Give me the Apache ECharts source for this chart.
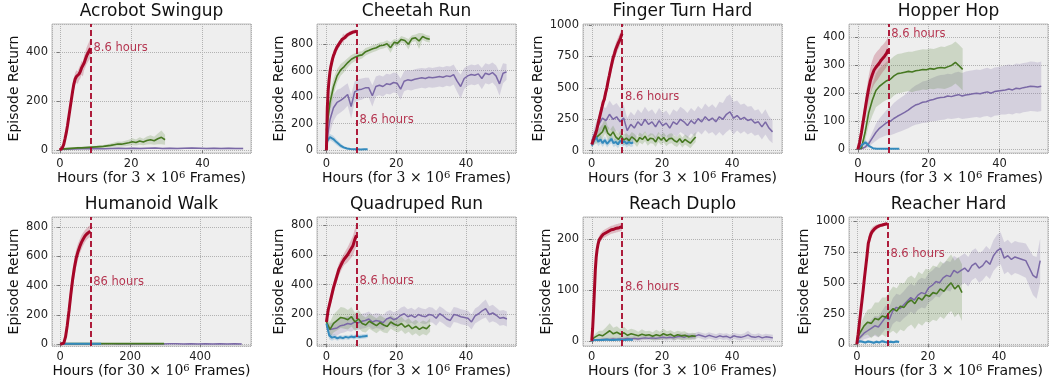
<!DOCTYPE html>
<html>
<head>
<meta charset="utf-8">
<script src="https://cdn.jsdelivr.net/npm/echarts@6/dist/echarts.min.js"></script>
<style>
  html, body { margin: 0; background: #fff; }
  #chart { width: 1049px; height: 379px; }
</style>
</head>
<body>
<div id="chart"></div>
<script>
// panel titles, axis ranges and tick steps
const TITLES = ["Acrobot Swingup", "Cheetah Run", "Finger Turn Hard", "Hopper Hop",
  "Humanoid Walk", "Quadruped Run", "Reach Duplo", "Reacher Hard"];
const X_MIN = [-2.2, -2.7, -2.5, -2.5, -23.5, -2.7, -2.5, -2.2];
const X_MAX = [53.6, 54.3, 54.2, 53.7, 545.5, 54.3, 54.2, 53.8];
const X_STEP = [20, 20, 20, 20, 200, 20, 20, 20];
const Y_MIN = [-12, -20, -18, -13, -12, -11, -10, -14];
const Y_MAX = [514, 950, 1008, 447, 868, 853, 244, 1035];
const Y_STEP = [200, 200, 250, 100, 200, 200, 100, 250];
const FRAMES = ["3", "3", "3", "3", "30", "3", "3", "3"];
// wall-clock marker and its note
const MARK_X = [8.6, 8.6, 8.6, 8.6, 86, 8.6, 8.6, 8.6];
const NOTE_TEXT = ["8.6 hours", "8.6 hours", "8.6 hours", "8.6 hours", "86 hours", "8.6 hours", "8.6 hours", "8.6 hours"];
const NOTE_Y = [416, 230, 426, 413, 426, 425, 106, 732];
// last hour of each run (red, green, purple, blue)
const RED_END = [8.6, 8.6, 8.6, 8.6, 86, 8.6, 8.6, 8.6];
const GREEN_END = [29.5, 29.6, 29.6, 29.6, 297, 29.7, 29.6, 29.6];
const PURPLE_END = [51.4, 51.6, 51.5, 51.8, 519, 51.7, 51.6, 51.6];
const BLUE_END = [11.7, 11.8, 11.8, 11.7, 117, 11.8, 11.7, 11.9];

// ---- Acrobot Swingup
const acrobotRed = [0, 4, 10, 22, 45, 70, 100, 135, 170, 205, 240, 270, 290, 300, 295, 310, 320, 335, 330, 355, 370, 385, 395, 405, 415];
const acrobotRedSd = [2, 4, 6, 8, 10, 12, 14, 16, 18, 20, 22, 24, 25, 25, 26, 26, 28, 28, 30, 30, 32, 34, 36, 38, 40];
const acrobotGreen = [3, 5, 6, 7, 8, 9, 9, 10, 11, 12, 13, 14, 15, 17, 19, 22, 25, 24, 27, 30, 34, 31, 37, 33, 39, 42, 38, 46, 52, 42];
const acrobotGreenSd = [2, 2, 3, 3, 3, 4, 4, 4, 5, 5, 5, 6, 6, 7, 8, 9, 10, 10, 11, 12, 14, 12, 15, 13, 16, 18, 16, 22, 28, 20];
const acrobotPurple = [2, 3, 4, 5, 5, 6, 5, 6, 7, 6, 7, 6, 7, 8, 6, 7, 6, 7, 8, 7, 6, 7, 6, 7, 6, 6];
const acrobotPurpleSd = [1, 2, 2, 3, 3, 3, 3, 3, 3, 3, 3, 3, 3, 3, 3, 3, 3, 3, 3, 3, 3, 3, 3, 3, 3, 3];

// ---- Cheetah Run
const cheetahRed = [0, 320, 450, 530, 590, 630, 660, 690, 712, 728, 748, 758, 776, 783, 797, 803, 817, 822, 836, 838, 847, 849, 859, 860, 869, 870, 878, 879, 884, 885, 889, 889, 894, 893, 898];
const cheetahRedSd = [0, 60, 60, 55, 50, 45, 40, 38, 36, 34, 32, 30, 28, 26, 25, 24, 24, 22, 22, 40, 22, 20, 20, 20, 18, 18, 18, 16, 16, 16, 15, 15, 15, 14, 14];
const cheetahGreen = [150, 360, 480, 560, 605, 630, 660, 685, 700, 712, 718, 742, 752, 764, 772, 786, 790, 802, 772, 812, 806, 834, 826, 798, 840, 846, 822, 856, 842, 836];
const cheetahGreenSd = [60, 70, 60, 50, 45, 40, 35, 32, 30, 30, 28, 28, 26, 26, 25, 25, 25, 25, 40, 25, 25, 25, 25, 40, 25, 25, 60, 25, 25, 25];
const cheetahPurple = [50, 230, 320, 360, 375, 395, 420, 330, 440, 455, 460, 470, 470, 410, 480, 490, 480, 500, 495, 510, 505, 460, 520, 530, 525, 535, 540, 545, 540, 550, 545, 550, 555, 550, 560, 555, 570, 520, 480, 540, 560, 570, 565, 575, 540, 580, 570, 585, 560, 500, 580, 590];
const cheetahPurpleSd = [50, 100, 100, 95, 90, 90, 85, 90, 80, 80, 80, 75, 75, 80, 75, 75, 75, 75, 75, 75, 75, 80, 75, 75, 75, 75, 75, 75, 75, 75, 75, 75, 75, 75, 75, 75, 75, 80, 90, 80, 75, 75, 75, 75, 80, 75, 75, 75, 80, 90, 75, 60];
const cheetahBlue = [60, 100, 85, 60, 38, 22, 14, 10, 9, 8, 7, 8, 8];
const cheetahBlueSd = [30, 25, 25, 22, 18, 12, 8, 5, 4, 4, 3, 3, 3];

// ---- Finger Turn Hard
const fingerRed = [50, 80, 95, 135, 170, 215, 255, 300, 340, 385, 410, 460, 500, 555, 600, 650, 695, 740, 770, 805, 830, 855, 875, 900, 930];
const fingerRedSd = [20, 25, 25, 30, 30, 35, 35, 40, 40, 40, 45, 45, 45, 50, 50, 50, 50, 50, 50, 50, 50, 50, 50, 50, 55];
const fingerGreen = [60, 90, 110, 130, 150, 200, 140, 120, 150, 110, 90, 120, 85, 100, 80, 110, 95, 70, 105, 90, 115, 80, 100, 95, 70, 110, 85, 105, 75, 95, 100, 80, 70, 95, 65, 90, 75, 60, 85, 110];
const fingerGreenSd = [30, 40, 50, 55, 60, 60, 55, 50, 50, 50, 45, 45, 45, 40, 40, 40, 40, 40, 40, 40, 40, 40, 40, 40, 40, 40, 40, 40, 40, 40, 40, 40, 40, 40, 40, 40, 40, 40, 40, 40];
const fingerPurple = [80, 150, 210, 260, 240, 290, 250, 270, 230, 260, 160, 210, 180, 230, 200, 250, 210, 230, 190, 240, 200, 220, 180, 230, 210, 250, 230, 200, 240, 215, 255, 230, 270, 240, 260, 230, 270, 250, 290, 310, 260, 280, 250, 265, 240, 250, 220, 230, 190, 230, 180, 150];
const fingerPurpleSd = [40, 60, 80, 90, 100, 110, 110, 110, 110, 105, 100, 100, 100, 100, 100, 100, 100, 100, 100, 100, 100, 100, 100, 100, 100, 100, 100, 100, 100, 100, 100, 100, 105, 105, 110, 110, 120, 130, 140, 140, 130, 120, 115, 110, 110, 105, 100, 100, 100, 100, 95, 90];
const fingerBlue = [40, 80, 110, 70, 90, 60, 85, 55, 75, 95, 60, 70, 50, 80, 65, 75, 55, 70, 60, 65];
const fingerBlueSd = [20, 30, 40, 35, 35, 30, 30, 30, 30, 35, 30, 30, 30, 30, 30, 30, 30, 30, 30, 30];

// ---- Hopper Hop
const hopperRed = [0, 25, 60, 100, 140, 180, 215, 245, 265, 282, 292, 300, 308, 318, 325, 333, 342, 357];
const hopperRedSd = [0, 10, 20, 30, 35, 40, 45, 48, 50, 52, 52, 52, 50, 50, 48, 48, 48, 48];
const hopperGreen = [0, 5, 60, 130, 175, 210, 225, 235, 245, 250, 262, 270, 272, 275, 278, 276, 280, 282, 285, 284, 288, 286, 290, 292, 290, 295, 300, 310, 298, 285];
const hopperGreenSd = [0, 5, 30, 45, 55, 60, 65, 65, 68, 70, 70, 70, 70, 70, 70, 72, 72, 72, 72, 72, 72, 72, 72, 75, 75, 75, 75, 75, 75, 75];
const hopperPurple = [0, 2, 8, 20, 40, 60, 75, 85, 95, 100, 110, 118, 125, 132, 140, 150, 158, 162, 168, 170, 175, 178, 182, 185, 186, 190, 188, 192, 195, 190, 194, 196, 198, 200, 198, 202, 205, 200, 206, 208, 210, 212, 215, 212, 218, 216, 220, 222, 225, 224, 222, 225];
const hopperPurpleSd = [0, 2, 6, 12, 20, 30, 35, 40, 45, 50, 55, 58, 60, 62, 65, 68, 70, 72, 74, 75, 76, 78, 80, 80, 80, 80, 80, 82, 82, 82, 84, 84, 84, 85, 85, 85, 86, 86, 86, 86, 86, 88, 88, 88, 88, 88, 88, 88, 88, 88, 88, 88];
const hopperBlue = [0, 15, 25, 12, 4, 2, 2, 2, 2, 2, 2, 2];
const hopperBlueSd = [0, 8, 10, 6, 2, 1, 1, 1, 1, 1, 1, 1];

// ---- Humanoid Walk
const humanoidRed = [0, 0, 8, 50, 130, 230, 340, 440, 520, 585, 630, 665, 695, 718, 738, 752, 765, 772];
const humanoidRedSd = [0, 2, 10, 30, 45, 60, 70, 70, 65, 60, 55, 50, 48, 45, 42, 40, 40, 40];
const humanoidGreen = [4, 4, 5, 4, 5, 4, 4, 5, 4, 5, 4, 4, 5, 4, 5, 4];
const humanoidGreenSd = [3, 3, 3, 3, 3, 3, 3, 3, 3, 3, 3, 3, 3, 3, 3, 3];
const humanoidPurple = [2, 2, 3, 2, 3, 2, 3, 3, 2, 3, 2, 3, 2, 3, 2, 3, 3, 2, 3, 2, 3, 2, 3, 2, 3, 2];
const humanoidPurpleSd = [2, 2, 2, 2, 2, 2, 2, 2, 2, 2, 2, 2, 2, 2, 2, 2, 2, 2, 2, 2, 2, 2, 2, 2, 2, 2];
const humanoidBlue = [3, 4, 3, 4, 3, 4, 3, 3];
const humanoidBlueSd = [2, 2, 2, 2, 2, 2, 2, 2];

// ---- Quadruped Run
const quadRed = [150, 230, 280, 330, 380, 420, 460, 500, 525, 550, 570, 585, 600, 620, 640, 660, 700, 730];
const quadRedSd = [20, 30, 35, 40, 40, 40, 40, 40, 40, 40, 40, 45, 50, 55, 60, 65, 70, 75];
const quadGreen = [150, 100, 140, 160, 180, 175, 165, 185, 150, 170, 140, 130, 155, 140, 125, 145, 130, 120, 150, 135, 125, 140, 115, 130, 105, 120, 100, 115, 105, 130];
const quadGreenSd = [40, 50, 60, 65, 70, 70, 65, 65, 60, 60, 55, 50, 50, 50, 50, 50, 50, 45, 45, 45, 45, 45, 45, 45, 45, 45, 45, 45, 45, 45];
const quadPurple = [130, 100, 105, 110, 125, 130, 140, 135, 150, 145, 155, 160, 170, 150, 160, 155, 145, 170, 180, 165, 175, 195, 205, 185, 195, 180, 200, 190, 185, 200, 195, 175, 205, 190, 170, 160, 200, 195, 185, 180, 175, 150, 190, 205, 225, 240, 200, 210, 195, 175, 180, 170];
const quadPurpleSd = [30, 40, 45, 50, 50, 50, 50, 50, 50, 50, 50, 50, 50, 50, 50, 50, 50, 50, 50, 50, 50, 50, 50, 50, 50, 50, 50, 50, 50, 50, 50, 50, 50, 50, 50, 50, 50, 50, 50, 50, 50, 50, 50, 50, 55, 60, 55, 55, 50, 50, 50, 50];
const quadBlue = [140, 60, 45, 50, 40, 48, 42, 50, 45, 52, 48, 55, 50, 52, 55, 58];
const quadBlueSd = [20, 25, 20, 18, 15, 15, 15, 15, 15, 15, 15, 15, 15, 15, 15, 15];

// ---- Reach Duplo
const reachRed = [0, 25, 60, 100, 140, 165, 180, 190, 197, 201, 204, 206, 208, 210, 211, 212, 213, 214, 215, 216, 217, 218, 219, 219, 220, 220, 221, 221, 222, 222, 223, 223, 224, 224, 225];
const reachRedSd = [0, 10, 15, 15, 15, 12, 10, 10, 8, 8, 8, 8, 8, 8, 8, 8, 8, 8, 8, 8, 8, 8, 8, 8, 8, 8, 8, 8, 8, 8, 8, 8, 8, 8, 8];
const reachGreen = [3, 8, 12, 10, 15, 20, 14, 17, 13, 16, 11, 14, 12, 10, 13, 11, 12, 9, 12, 10, 14, 11, 13, 9, 12, 10, 11, 8, 10, 9];
const reachGreenSd = [3, 6, 8, 10, 12, 15, 12, 12, 10, 12, 10, 10, 10, 8, 10, 8, 8, 8, 10, 8, 10, 8, 8, 8, 8, 8, 8, 6, 6, 6];
const reachPurple = [1, 2, 2, 3, 3, 3, 4, 3, 4, 4, 5, 4, 5, 4, 5, 6, 5, 6, 5, 6, 7, 6, 7, 6, 8, 9, 7, 10, 8, 9, 12, 10, 8, 11, 9, 7, 10, 8, 9, 6, 10, 8, 7, 9, 12, 8, 7, 9, 6, 8, 7, 6];
const reachPurpleSd = [2, 2, 3, 3, 3, 3, 3, 3, 3, 3, 4, 4, 4, 4, 4, 4, 4, 4, 4, 4, 5, 5, 5, 5, 5, 6, 6, 6, 6, 6, 6, 6, 6, 6, 6, 6, 6, 6, 6, 6, 6, 6, 6, 6, 8, 6, 6, 6, 6, 6, 6, 6];
const reachBlue = [1, 2, 2, 2, 3, 2, 2, 3, 2, 2, 3, 2];
const reachBlueSd = [1, 1, 1, 1, 1, 1, 1, 1, 1, 1, 1, 1];

// ---- Reacher Hard
const reacherRed = [0, 80, 170, 260, 350, 440, 540, 630, 720, 820, 860, 895, 915, 930, 940, 950, 955, 960, 965, 968, 970, 974, 976, 978, 980];
const reacherRedSd = [0, 20, 30, 40, 50, 55, 60, 60, 60, 55, 50, 40, 35, 30, 25, 22, 20, 18, 16, 15, 14, 13, 12, 12, 12];
const reacherGreen = [40, 100, 150, 180, 170, 210, 200, 230, 220, 260, 290, 270, 310, 300, 340, 360, 330, 380, 360, 400, 390, 420, 410, 450, 430, 470, 500, 450, 480, 420];
const reacherGreenSd = [30, 60, 80, 100, 120, 130, 140, 150, 160, 170, 180, 185, 190, 195, 200, 200, 205, 210, 210, 215, 215, 220, 220, 225, 225, 225, 230, 230, 230, 230];
const reacherPurple = [30, 60, 90, 110, 130, 150, 140, 180, 220, 200, 270, 300, 290, 320, 350, 380, 360, 400, 420, 410, 460, 480, 510, 500, 540, 560, 550, 600, 580, 600, 620, 590, 640, 660, 620, 640, 680, 650, 720, 760, 780, 700, 720, 690, 710, 700, 690, 680, 620, 560, 540, 680];
const reacherPurpleSd = [30, 40, 50, 60, 70, 80, 85, 90, 95, 100, 105, 110, 110, 110, 115, 115, 115, 120, 120, 120, 120, 120, 120, 120, 120, 120, 120, 120, 120, 120, 120, 120, 120, 120, 120, 120, 120, 120, 125, 130, 130, 130, 130, 130, 130, 130, 135, 140, 150, 160, 170, 180];
const reacherBlue = [10, 25, 20, 15, 22, 18, 12, 20, 15, 25, 18, 14, 20, 16, 22, 18];
const reacherBlueSd = [8, 12, 12, 10, 12, 10, 10, 12, 10, 14, 10, 10, 12, 10, 12, 10];

// per panel: [purple, green, blue, red] as [values, spread]
const PANEL_RUNS = [
  [[acrobotPurple, acrobotPurpleSd], [acrobotGreen, acrobotGreenSd], null, [acrobotRed, acrobotRedSd]],
  [[cheetahPurple, cheetahPurpleSd], [cheetahGreen, cheetahGreenSd], [cheetahBlue, cheetahBlueSd], [cheetahRed, cheetahRedSd]],
  [[fingerPurple, fingerPurpleSd], [fingerGreen, fingerGreenSd], [fingerBlue, fingerBlueSd], [fingerRed, fingerRedSd]],
  [[hopperPurple, hopperPurpleSd], [hopperGreen, hopperGreenSd], [hopperBlue, hopperBlueSd], [hopperRed, hopperRedSd]],
  [[humanoidPurple, humanoidPurpleSd], [humanoidGreen, humanoidGreenSd], [humanoidBlue, humanoidBlueSd], [humanoidRed, humanoidRedSd]],
  [[quadPurple, quadPurpleSd], [quadGreen, quadGreenSd], [quadBlue, quadBlueSd], [quadRed, quadRedSd]],
  [[reachPurple, reachPurpleSd], [reachGreen, reachGreenSd], [reachBlue, reachBlueSd], [reachRed, reachRedSd]],
  [[reacherPurple, reacherPurpleSd], [reacherGreen, reacherGreenSd], [reacherBlue, reacherBlueSd], [reacherRed, reacherRedSd]],
];

const COLORS = ["#7A68A6", "#467821", "#348ABD", "#A60628"];
const BANDS = ["rgba(122,104,166,0.22)", "rgba(70,120,33,0.2)", "rgba(52,138,189,0.22)", "rgba(166,6,40,0.22)"];
const WIDTHS = [1.5, 1.6, 2, 3];
const FONT = "DejaVu Sans";

const LEFTS = [52, 317, 583, 849];
const TOPS = [24, 217];
const W = 199, H = 129;
const NAME_GAPS = [31, 31, 37, 31, 31, 31, 30, 37];

const chart = echarts.init(document.getElementById("chart"), null, { renderer: "canvas" });

const grids = [], xAxes = [], yAxes = [], titles = [], series = [];

TITLES.forEach((title, p) => {
  const left = LEFTS[p % 4], top = TOPS[Math.floor(p / 4)];
  grids.push({
    left, top, width: W, height: H, show: true,
    backgroundColor: "#eeeeee", borderColor: "#bcbcbc", borderWidth: 1,
  });
  titles.push({
    text: title, left: left + W / 2, top: top - 21, textAlign: "center", padding: 0,
    textStyle: { fontFamily: FONT, fontSize: 17, fontWeight: "normal", color: "#111" },
  });
  xAxes.push({
    type: "value", gridIndex: p, min: X_MIN[p], max: X_MAX[p],
    minInterval: X_STEP[p], maxInterval: X_STEP[p],
    name: "{a|Hours (for }{m|" + FRAMES[p] + " × 10}{s|6}{a| Frames)}",
    nameLocation: "middle", nameGap: 17,
    nameTextStyle: {
      rich: {
        a: { fontFamily: FONT, fontSize: 14, color: "#111" },
        m: { fontFamily: "DejaVu Serif", fontSize: 14, color: "#111" },
        s: { fontFamily: "DejaVu Serif", fontSize: 10, color: "#111", verticalAlign: "top" },
      },
    },
    axisLine: { show: false },
    axisTick: { show: true, length: 3, lineStyle: { color: "#777" } },
    axisLabel: { fontFamily: FONT, fontSize: 11.5, color: "#222", margin: 5, showMinLabel: false, showMaxLabel: false,
      formatter: (v) => String(v) },
    splitLine: { show: true, lineStyle: { color: "#b2b2b2", type: "dotted", width: 1 } },
  });
  yAxes.push({
    type: "value", gridIndex: p, min: Y_MIN[p], max: Y_MAX[p],
    minInterval: Y_STEP[p], maxInterval: Y_STEP[p],
    name: "Episode Return", nameLocation: "middle", nameGap: NAME_GAPS[p],
    nameTextStyle: { fontFamily: FONT, fontSize: 14, color: "#111" },
    axisLine: { show: false },
    axisTick: { show: true, length: 3, lineStyle: { color: "#777" } },
    axisLabel: { fontFamily: FONT, fontSize: 11.5, color: "#222", margin: 4, showMinLabel: false, showMaxLabel: false,
      formatter: (v) => String(v) },
    splitLine: { show: true, lineStyle: { color: "#b2b2b2", type: "dotted", width: 1 } },
  });

  const ends = [PURPLE_END[p], GREEN_END[p], BLUE_END[p], RED_END[p]];
  const runs = PANEL_RUNS[p];

  // shaded spread first, so every mean line sits above the bands
  runs.forEach((run, m) => {
    if (!run) return;
    const [vals, sd] = run;
    const n = vals.length;
    const xs = vals.map((_, k) => ends[m] * k / (n - 1));
    series.push({
      type: "custom", xAxisIndex: p, yAxisIndex: p, silent: true, z: 1,
      data: [[0, 0]],
      renderItem: (params, api) => {
        const pts = [];
        for (let k = 0; k < n; k++) pts.push(api.coord([xs[k], vals[k] + sd[k]]));
        for (let k = n - 1; k >= 0; k--) pts.push(api.coord([xs[k], vals[k] - sd[k]]));
        const cs = params.coordSys;
        return {
          type: "polygon", shape: { points: pts }, style: { fill: BANDS[m] },
          clipPath: { type: "rect", shape: { x: cs.x, y: cs.y, width: cs.width, height: cs.height } },
        };
      },
    });
  });

  runs.forEach((run, m) => {
    if (!run) return;
    const [vals] = run;
    const n = vals.length;
    const s = {
      type: "line", xAxisIndex: p, yAxisIndex: p, z: 2,
      showSymbol: false, symbol: "none", silent: true, animation: false,
      data: vals.map((v, k) => [ends[m] * k / (n - 1), v]),
      lineStyle: { color: COLORS[m], width: WIDTHS[m] },
    };
    if (m === 3) {
      s.z = 3;
      s.markLine = {
        silent: true, symbol: ["none", "none"], animation: false,
        label: { show: false },
        lineStyle: { color: "#A60628", type: [6, 3], width: 1.8 },
        data: [{ xAxis: MARK_X[p] }],
      };
    }
    series.push(s);
  });

  series.push({
    type: "scatter", xAxisIndex: p, yAxisIndex: p, z: 4, silent: true,
    symbolSize: 0, data: [[MARK_X[p], NOTE_Y[p]]],
    label: {
      show: true, position: "right", distance: 3, formatter: NOTE_TEXT[p],
      fontFamily: FONT, fontSize: 11.5, color: "#A60628",
    },
  });
});

chart.setOption({
  animation: false,
  backgroundColor: "#ffffff",
  textStyle: { fontFamily: FONT },
  title: titles,
  grid: grids,
  xAxis: xAxes,
  yAxis: yAxes,
  series,
});
</script>
</body>
</html>
